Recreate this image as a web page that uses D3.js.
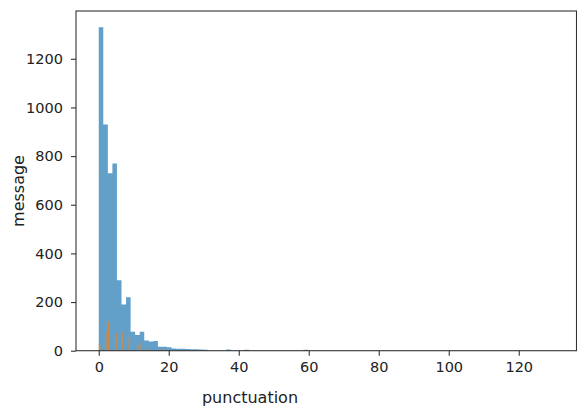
<!DOCTYPE html>
<html>
<head>
<meta charset="utf-8">
<script src="https://cdn.jsdelivr.net/npm/d3@7"></script>
<style>
  html, body { margin: 0; padding: 0; background: #fff; }
  svg { display: block; }
  .tick text { font-family: "DejaVu Sans", sans-serif; font-size: 14.5px; fill: #222; }
  .axis-label { font-family: "DejaVu Sans", sans-serif; font-size: 16px; fill: #222; }
</style>
</head>
<body>
<div id="chart"></div>
<script>
// ham histogram: 100 bins of width 1.3 starting at 0
const hamBinStart = 0;
const hamBinWidth = 1.3;
const hamCounts = [
  1330, 930, 730, 770, 290, 190, 220, 78, 65, 78,
  42, 38, 40, 16, 16, 14, 9, 8, 8, 7,
  6, 6, 5, 4, 0, 0, 0, 0, 5, 0,
  0, 0, 4, 0, 0, 0, 0, 0, 0, 0,
  0, 0, 0, 0, 0, 4, 0, 0, 0, 0,
  0, 0, 0, 0, 0, 0, 0, 0, 0, 0,
  0, 0, 0, 0, 0, 0, 0, 0, 0, 0,
  0, 0, 0, 0, 0, 0, 0, 0, 0, 0,
  0, 0, 0, 0, 0, 0, 0, 0, 0, 0,
  0, 0, 0, 0, 0, 0, 0, 0, 0, 1
];

// spam histogram: narrow bins, only the filled ones listed
const spamBinWidth = 0.45;
const spamBinStarts = [0.0, 1.8, 2.5, 4.7, 6.4, 8.5, 10.9, 11.5, 13.7, 17.3, 19.0];
const spamCounts    = [28,  78,  119, 72,  78,  55,  23,   31,   11,   5,    4];

const xTicks = [0, 20, 40, 60, 80, 100, 120];
const yTicks = [0, 200, 400, 600, 800, 1000, 1200];

const W = 577, H = 409;
const plot = { left: 76, right: 576.5, top: 11, bottom: 350.7 };

const hamBins = hamCounts.map((c, i) => ({ x0: hamBinStart + i * hamBinWidth, count: c }));
// closing point so the last step has a right edge
hamBins.push({ x0: hamBinStart + hamCounts.length * hamBinWidth, count: 0 });
const spamBins = spamBinStarts.map((s, i) => ({ x0: s, x1: s + spamBinWidth, count: spamCounts[i] }));

const xMin = hamBinStart, xMax = hamBinStart + hamCounts.length * hamBinWidth;
const xPad = (xMax - xMin) * 0.05;
const yMax = d3.max(hamCounts) * 1.05;

const x = d3.scaleLinear().domain([xMin - xPad, xMax + xPad]).range([plot.left, plot.right]);
const y = d3.scaleLinear().domain([0, yMax]).range([plot.bottom, plot.top]);

const svg = d3.select('#chart').append('svg')
  .attr('width', W)
  .attr('height', H);

// ham as one stepped area, so adjacent bins have no seams
const hamArea = d3.area()
  .curve(d3.curveStepAfter)
  .x(d => x(d.x0))
  .y0(y(0))
  .y1(d => y(d.count));

svg.append('path')
  .datum(hamBins)
  .attr('d', hamArea)
  .attr('fill', '#1f77b4')
  .attr('fill-opacity', 0.7);

svg.append('g')
  .selectAll('rect')
  .data(spamBins)
  .join('rect')
  .attr('x', d => x(d.x0))
  .attr('width', d => x(d.x1) - x(d.x0))
  .attr('y', d => y(d.count))
  .attr('height', d => y(0) - y(d.count))
  .attr('fill', '#ff7f0e')
  .attr('fill-opacity', 0.7);

// axes
const xAxis = svg.append('g')
  .attr('transform', 'translate(0,' + plot.bottom + ')')
  .call(d3.axisBottom(x).tickValues(xTicks).tickSize(5).tickPadding(6).tickFormat(d3.format('d')));

const yAxis = svg.append('g')
  .attr('transform', 'translate(' + plot.left + ',0)')
  .call(d3.axisLeft(y).tickValues(yTicks).tickSize(5).tickPadding(8).tickFormat(d3.format('d')));

[xAxis, yAxis].forEach(a => {
  a.select('.domain').remove();
  a.selectAll('.tick line').attr('stroke', '#333').attr('stroke-width', 1.1);
});

// frame
svg.append('rect')
  .attr('x', plot.left)
  .attr('y', plot.top)
  .attr('width', plot.right - plot.left)
  .attr('height', plot.bottom - plot.top)
  .attr('fill', 'none')
  .attr('stroke', '#333')
  .attr('stroke-width', 1.1);

// labels
svg.append('text')
  .attr('class', 'axis-label')
  .attr('x', 250)
  .attr('y', 403)
  .attr('text-anchor', 'middle')
  .text('punctuation');

svg.append('text')
  .attr('class', 'axis-label')
  .attr('transform', 'translate(24,191) rotate(-90)')
  .attr('text-anchor', 'middle')
  .text('message');
</script>
</body>
</html>
